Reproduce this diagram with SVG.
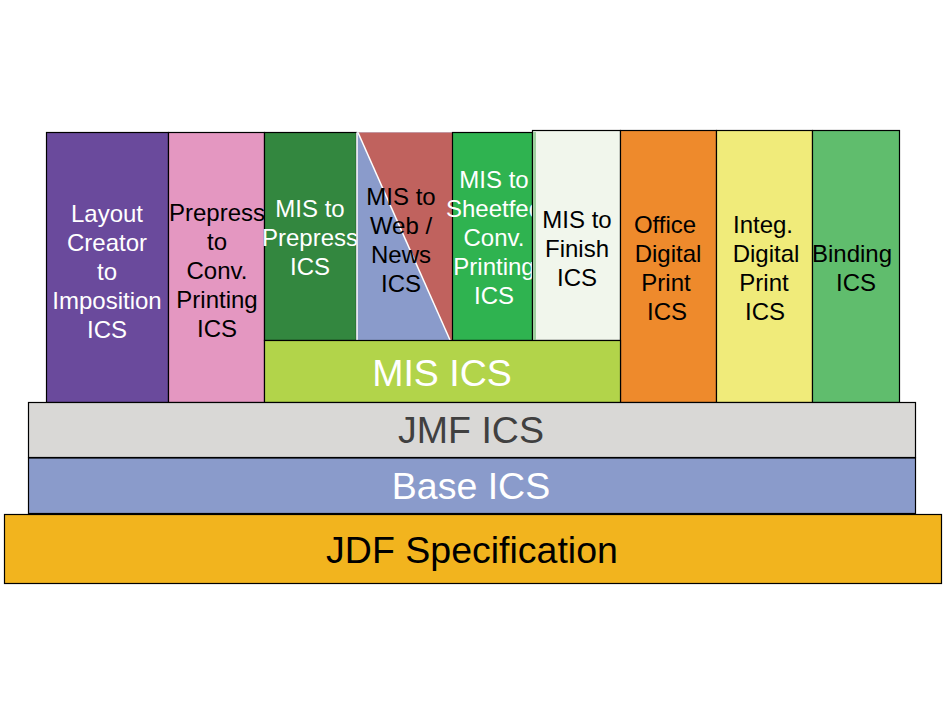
<svg xmlns="http://www.w3.org/2000/svg" width="946" height="709" viewBox="0 0 946 709">
<style>
.b{stroke:#000;stroke-width:1.2}
.t{font-family:"Liberation Sans",Arial,sans-serif;font-size:24px;text-anchor:middle}
.L{font-family:"Liberation Sans",Arial,sans-serif;font-size:37.5px;text-anchor:middle}
.w{fill:#fff}.k{fill:#000}
</style>
<rect width="946" height="709" fill="#fff"/>
<g id="layout"><rect class="b" x="46.5" y="132.5" width="122" height="270" fill="#6A4A9C"/>
<text class="t w" x="107"><tspan x="107" y="222">Layout</tspan><tspan x="107" y="251">Creator</tspan><tspan x="107" y="280">to</tspan><tspan x="107" y="309">Imposition</tspan><tspan x="107" y="338">ICS</tspan></text></g>
<g id="prepress"><rect class="b" x="168.5" y="132.5" width="96" height="270" fill="#E497C1"/>
<text class="t k"><tspan x="217" y="221">Prepress</tspan><tspan x="217" y="250">to</tspan><tspan x="217" y="279">Conv.</tspan><tspan x="217" y="308">Printing</tspan><tspan x="217" y="337">ICS</tspan></text></g>
<g id="mis-prepress"><rect class="b" x="264.5" y="132.5" width="92" height="208" fill="#33873F"/>
<text class="t w"><tspan x="310" y="217">MIS to</tspan><tspan x="310" y="246">Prepress</tspan><tspan x="310" y="275">ICS</tspan></text></g>
<g id="mis-web"><rect x="356.5" y="132.5" width="96" height="208" fill="#8A9BCB"/>
<polygon points="358,132.5 452,132.5 452,340 450,340" fill="#C0625E"/>
<line x1="358" y1="132.5" x2="450" y2="340" stroke="#fff" stroke-width="1.5"/>
<line x1="357" y1="132.5" x2="357" y2="340" stroke="#fff" stroke-width="1.5"/>
<text class="t k"><tspan x="401" y="205">MIS to</tspan><tspan x="401" y="234">Web /</tspan><tspan x="401" y="263">News</tspan><tspan x="401" y="292">ICS</tspan></text></g>
<g id="mis-sheetfed"><rect class="b" x="452.5" y="132.5" width="80" height="208" fill="#2FB350"/>
<text class="t w"><tspan x="494" y="188">MIS to</tspan><tspan x="494" y="217">Sheetfed</tspan><tspan x="494" y="246">Conv.</tspan><tspan x="494" y="275">Printing</tspan><tspan x="494" y="304">ICS</tspan></text></g>
<g id="mis-finish"><rect class="b" x="532.5" y="130.5" width="88" height="210" fill="#F1F6EC"/>
<rect x="533" y="132" width="3" height="208" fill="#9FCF9F"/>
<text class="t k"><tspan x="577" y="228">MIS to</tspan><tspan x="577" y="257">Finish</tspan><tspan x="577" y="286">ICS</tspan></text></g>
<g id="office"><rect class="b" x="620.5" y="130.5" width="96" height="272" fill="#EE8A2C"/>
<text class="t k"><tspan x="665" y="233">Office</tspan><tspan x="668" y="262">Digital</tspan><tspan x="666" y="291">Print</tspan><tspan x="667" y="320">ICS</tspan></text></g>
<g id="integ"><rect class="b" x="716.5" y="130.5" width="96" height="272" fill="#F0EB7A"/>
<text class="t k"><tspan x="763" y="233">Integ.</tspan><tspan x="766" y="262">Digital</tspan><tspan x="764" y="291">Print</tspan><tspan x="765" y="320">ICS</tspan></text></g>
<g id="binding"><rect class="b" x="812.5" y="130.5" width="87" height="272" fill="#60BD6D"/>
<text class="t k"><tspan x="852" y="262">Binding</tspan><tspan x="856" y="291">ICS</tspan></text></g>
<g id="mis-ics"><rect class="b" x="264.5" y="340.5" width="356" height="62" fill="#B2D44A"/>
<text class="L w" x="442" y="386">MIS ICS</text></g>
<g id="jmf"><rect class="b" x="28.5" y="402.5" width="887" height="55" fill="#D9D8D6"/>
<text class="L" fill="#404040" x="471" y="443">JMF ICS</text></g>
<g id="base"><rect class="b" x="28.5" y="458" width="887" height="55.5" fill="#8A9BCB" stroke-width="2"/>
<text class="L w" x="471" y="499">Base ICS</text></g>
<g id="jdf"><rect class="b" x="4.5" y="514.5" width="937" height="69" fill="#F2B41E"/>
<text class="L k" x="472" y="563">JDF Specification</text></g>
<g id="connectors"/>
</svg>
